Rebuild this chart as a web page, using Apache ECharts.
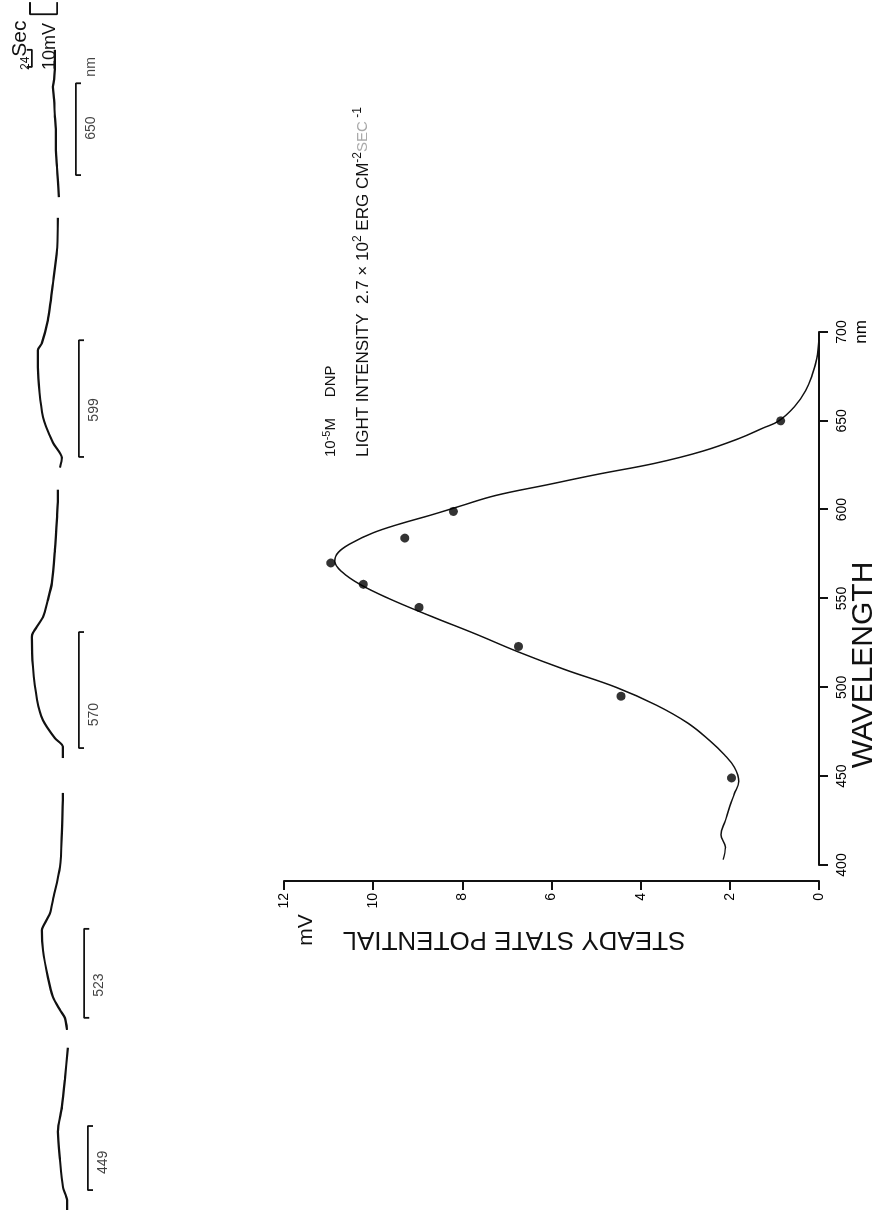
<!DOCTYPE html>
<html>
<head>
<meta charset="utf-8">
<title>Steady state potential vs wavelength</title>
<script src="https://cdn.jsdelivr.net/npm/echarts@6.0.0/dist/echarts.min.js"></script>
<style>
  html, body { margin: 0; padding: 0; background: #fff; overflow: hidden; width: 892px; height: 1210px; }
  /* the figure is printed sideways: lay it out upright, then turn it 90deg counter-clockwise */
  #chart {
    position: absolute; left: 0; top: 0; width: 1210px; height: 892px;
    transform-origin: 0 0; transform: translateY(1210px) rotate(-90deg);
  }
</style>
</head>
<body>
<div id="chart"></div>
<script>
const FONT = "'Liberation Sans', Arial, sans-serif";

// steady state potential (mV) measured at each test wavelength (nm)
const pointWavelength = [449, 495, 523, 545, 558, 570, 584, 599, 650];
const pointMv = [1.96, 4.44, 6.74, 8.97, 10.22, 10.95, 9.29, 8.2, 0.86];

// hand drawn curve through the points
const curveWavelength = [403, 410, 417, 425, 433, 440, 447, 455, 462, 470, 480, 490, 500, 510, 520, 530,
  540, 550, 558, 565, 571, 576, 581, 587, 592, 597, 602, 608, 614, 620, 626, 633, 640, 646, 650,
  658, 667, 676, 685, 696];
const curveMv = [2.15, 2.1, 2.2, 2.1, 2.0, 1.9, 1.8, 1.9, 2.12, 2.45, 2.95, 3.65, 4.55, 5.7, 6.75, 7.7,
  8.7, 9.65, 10.3, 10.7, 10.86, 10.78, 10.5, 10.0, 9.4, 8.7, 8.05, 7.25, 6.1, 4.95, 3.7, 2.6, 1.8, 1.25, 0.9,
  0.55, 0.3, 0.15, 0.05, 0.0];

// recorded traces, [time (s), potential (mV)]
const trace449 = [[0, -2.8], [14, -2.8], [32, -1.3], [70, -0.2], [110, 0.6], [145, -0.9], [183, -2.0], [228, -3.1]];
const trace523 = [[253, -2.8], [270, -2.0], [281, -0.2], [299, 2.4], [327, 4.3], [365, 6.1], [393, 6.5], [398, 6.1],
  [417, 3.5], [436, 2.4], [482, -0.2], [530, -0.9], [586, -1.3]];
const trace570 = [[635, -1.3], [651, -1.3], [663, 1.7], [688, 6.1], [717, 8.3], [763, 9.8], [805, 10.2], [811, 9.8],
  [833, 6.1], [857, 4.3], [881, 2.8], [927, 1.7], [974, 0.9], [998, 0.6], [1012, 0.6]];
const trace599 = [[1043, -0.2], [1057, -0.9], [1078, 2.4], [1114, 6.1], [1184, 8.0], [1208, 8.0], [1218, 6.5],
  [1250, 4.3], [1302, 2.4], [1349, 0.9], [1394, 0.6]];
const trace650 = [[1423, 0.2], [1447, 0.6], [1465, 0.9], [1489, 1.3], [1513, 1.3], [1536, 1.7], [1560, 2.0],
  [1578, 2.4], [1588, 2.0], [1606, 1.7], [1630, 1.7]];
const traces = [trace449, trace523, trace570, trace599, trace650];

// light-on periods marked under each trace
const stimulusNames = ['449', '523', '570', '599', '650'];
const stimulusOn = [28, 270, 649, 1058, 1454];
const stimulusOff = [118, 395, 812, 1222, 1583];
const stimulusLevel = [-10.5, -9.1, -7.2, -7.2, -6.1];
const stimulusLabelTime = [67, 316, 696, 1124, 1520];
const unitLabelTime = 1606;

// calibration: 24 s and 10 mV
const secBar = [1606, 1630];
const secBarLevel = 10.2;
const mvBar = [0.9, 10.9];
const mvBarTime = 1680;

var chartDom = document.getElementById('chart');
var myChart = echarts.init(chartDom);
var option;

const ink = '#111';
const TICK = 1.9; // bracket end, mV

const bracketSeries = stimulusNames.map((n, i) => ({
  type: 'line', xAxisIndex: 1, yAxisIndex: 1, showSymbol: false, silent: true,
  lineStyle: { color: ink, width: 1.8 },
  data: [[stimulusOn[i], stimulusLevel[i] - TICK], [stimulusOn[i], stimulusLevel[i]],
         [stimulusOff[i], stimulusLevel[i]], [stimulusOff[i], stimulusLevel[i] - TICK]]
}));

const labelData = stimulusNames.map((n, i) => ({ value: [stimulusLabelTime[i], stimulusLevel[i]], name: n }));
labelData.push({ value: [unitLabelTime, stimulusLevel[4]], name: 'nm' });

const axisText = { fontFamily: FONT, fontSize: 14, color: '#000' };

option = {
  animation: false,
  backgroundColor: '#fff',
  grid: [
    { left: 345, right: 332, top: 284, bottom: 73 },
    { left: 0, right: 0, top: 0, height: 100 }
  ],
  xAxis: [
    {
      gridIndex: 0, type: 'value', min: 400, max: 700, interval: 50,
      axisLine: { show: true, lineStyle: { color: ink, width: 2 } },
      axisTick: { show: true, length: 9, lineStyle: { color: ink, width: 2 } },
      splitLine: { show: false },
      axisLabel: Object.assign({}, axisText, {
        margin: 14,
        formatter: (v) => (v === 700 ? '{a|700}\n{b|nm}' : '{a|' + v + '}'),
        rich: {
          a: { fontFamily: FONT, fontSize: 14, color: '#000', lineHeight: 18 },
          b: { fontFamily: FONT, fontSize: 17, color: '#000', lineHeight: 20 }
        }
      })
    },
    { gridIndex: 1, type: 'value', min: 0, max: 1700, show: false }
  ],
  yAxis: [
    {
      gridIndex: 0, type: 'value', min: 0, max: 12, interval: 2, offset: 16,
      axisLine: { show: true, lineStyle: { color: ink, width: 2 } },
      axisTick: { show: true, length: 9, lineStyle: { color: ink, width: 2 } },
      splitLine: { show: false },
      axisLabel: Object.assign({}, axisText, { margin: 12 })
    },
    { gridIndex: 1, type: 'value', min: -15, max: 22, show: false }
  ],
  graphic: [
    {
      type: 'text', x: 545, y: 864,
      style: { text: 'WAVELENGTH', font: '30px ' + FONT, fill: ink,
               align: 'center', verticalAlign: 'middle', textAlign: 'center', textVerticalAlign: 'middle' }
    },
    {
      type: 'text', x: 271, y: 514, rotation: Math.PI / 2,
      style: { text: 'STEADY STATE POTENTIAL', font: '26px ' + FONT, fill: ink,
               align: 'center', verticalAlign: 'middle', textAlign: 'center', textVerticalAlign: 'middle' }
    },
    {
      type: 'text', x: 280, y: 306,
      style: { text: 'mV', font: '21px ' + FONT, fill: ink,
               align: 'center', verticalAlign: 'middle', textAlign: 'center', textVerticalAlign: 'middle' }
    },
    {
      type: 'text', x: 753, y: 331,
      style: {
        text: '{a|10}{s|-5}{a|M     DNP}',
        align: 'left', verticalAlign: 'middle', textAlign: 'left', textVerticalAlign: 'middle',
        rich: {
          a: { fontFamily: FONT, fontSize: 15, fill: ink, color: ink, lineHeight: 20 },
          s: { fontFamily: FONT, fontSize: 11, fill: ink, color: ink, lineHeight: 20, verticalAlign: 'top' }
        }
      }
    },
    {
      type: 'text', x: 753, y: 363,
      style: {
        text: '{a|LIGHT INTENSITY  2.7 \u00d7 10}{s|2}{a| ERG CM}{s|-2}{g|SEC}{s| -1}',
        align: 'left', verticalAlign: 'middle', textAlign: 'left', textVerticalAlign: 'middle',
        rich: {
          a: { fontFamily: FONT, fontSize: 17, fill: ink, color: ink, lineHeight: 22 },
          s: { fontFamily: FONT, fontSize: 12, fill: ink, color: ink, lineHeight: 22, verticalAlign: 'top' },
          g: { fontFamily: FONT, fontSize: 15, fill: '#aaa', color: '#aaa', lineHeight: 22 }
        }
      }
    },
    {
      type: 'text', x: 1140, y: 20,
      style: {
        text: '{s|24}{a|Sec}',
        align: 'left', verticalAlign: 'middle', textAlign: 'left', textVerticalAlign: 'middle',
        rich: {
          a: { fontFamily: FONT, fontSize: 21, fill: ink, color: ink, lineHeight: 24 },
          s: { fontFamily: FONT, fontSize: 12, fill: ink, color: ink, lineHeight: 24, verticalAlign: 'bottom' }
        }
      }
    },
    {
      type: 'text', x: 1140, y: 50,
      style: { text: '10mV', font: '18px ' + FONT, fill: ink,
               align: 'left', verticalAlign: 'middle', textAlign: 'left', textVerticalAlign: 'middle' }
    }
  ],
  series: [
    {
      type: 'line', xAxisIndex: 0, yAxisIndex: 0, silent: true,
      data: curveWavelength.map((w, i) => [w, curveMv[i]]),
      smooth: 0.4, showSymbol: false,
      lineStyle: { color: ink, width: 1.5 }, z: 2
    },
    {
      type: 'scatter', xAxisIndex: 0, yAxisIndex: 0,
      data: pointWavelength.map((w, i) => [w, pointMv[i]]),
      symbolSize: 9, itemStyle: { color: '#000' }, z: 3
    },
    ...traces.map((tr) => ({
      type: 'line', xAxisIndex: 1, yAxisIndex: 1, data: tr, silent: true,
      smooth: 0.25, showSymbol: false, lineStyle: { color: ink, width: 2.2 }
    })),
    ...bracketSeries,
    {
      type: 'scatter', xAxisIndex: 1, yAxisIndex: 1, data: labelData,
      symbolSize: 1, itemStyle: { color: 'rgba(0,0,0,0)' },
      label: { show: true, position: 'bottom', distance: 8, formatter: '{b}',
               fontFamily: FONT, fontSize: 14, color: ink }
    },
    {
      type: 'line', xAxisIndex: 1, yAxisIndex: 1, showSymbol: false, silent: true,
      lineStyle: { color: ink, width: 1.8 },
      data: [[secBar[0], secBarLevel + TICK], [secBar[0], secBarLevel], [secBar[1], secBarLevel], [secBar[1], secBarLevel + TICK]]
    },
    {
      type: 'line', xAxisIndex: 1, yAxisIndex: 1, showSymbol: false, silent: true,
      lineStyle: { color: ink, width: 1.8 },
      data: [[mvBarTime + 17, mvBar[1]], [mvBarTime, mvBar[1]], [mvBarTime, mvBar[0]], [mvBarTime + 17, mvBar[0]]]
    }
  ]
};

option && myChart.setOption(option);
</script>
</body>
</html>
